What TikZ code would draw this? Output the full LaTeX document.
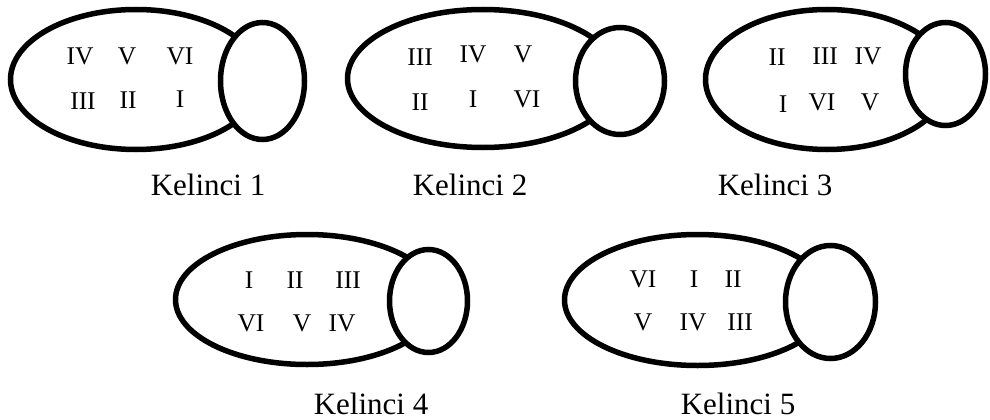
\documentclass[tikz,border=0pt]{standalone}
\usepackage{fontspec}
\setmainfont{Liberation Serif}
\begin{document}
\begin{tikzpicture}[x=1pt,y=-1pt,
  outline/.style={draw=black,line width=5.5pt},
  head/.style={draw=black,fill=white,line width=5.5pt},
  num/.style={anchor=base,inner sep=0pt,font=\fontsize{25.5}{25.5}\selectfont},
  caption/.style={anchor=base,inner sep=0pt,font=\fontsize{31}{31}\selectfont}]
\useasboundingbox (0,0) rectangle (990,420);

% Kelinci 1
\draw[outline] (136,79.5) ellipse [x radius=125.5,y radius=70];
\draw[head] (262.5,81) ellipse [x radius=42,y radius=58.5];
\node[num] (k1a) at (80,65) {IV};
\node[num] (k1b) at (127,65) {V};
\node[num] (k1c) at (180,65) {VI};
\node[num] (k1d) at (83,109) {III};
\node[num] (k1e) at (128,108) {II};
\node[num] (k1f) at (180,107) {I};
\node[caption] (cap1) at (208,195) {Kelinci 1};

% Kelinci 2
\draw[outline] (483,78.5) ellipse [x radius=135.5,y radius=69];
\draw[head] (620,81) ellipse [x radius=44.5,y radius=53.5];
\node[num] (k2a) at (420,66) {III};
\node[num] (k2b) at (473,63) {IV};
\node[num] (k2c) at (523,63) {V};
\node[num] (k2d) at (420,110) {II};
\node[num] (k2e) at (473,107) {I};
\node[num] (k2f) at (527,107) {VI};
\node[caption] (cap2) at (470,195) {Kelinci 2};

% Kelinci 3
\draw[outline] (827,79.5) ellipse [x radius=121.5,y radius=70];
\draw[head] (945.5,74) ellipse [x radius=40,y radius=51.5];
\node[num] (k3a) at (777,66) {II};
\node[num] (k3b) at (825,65) {III};
\node[num] (k3c) at (868,65) {IV};
\node[num] (k3d) at (783,112) {I};
\node[num] (k3e) at (822,110) {VI};
\node[num] (k3f) at (870,110) {V};
\node[caption] (cap3) at (775,195) {Kelinci 3};

% Kelinci 4
\draw[outline] (307,299.5) ellipse [x radius=131.5,y radius=65];
\draw[head] (428.5,301) ellipse [x radius=39,y radius=51.5];
\node[num] (k4a) at (249,288) {I};
\node[num] (k4b) at (295,288) {II};
\node[num] (k4c) at (348,288) {III};
\node[num] (k4d) at (251,331) {VI};
\node[num] (k4e) at (302,331) {V};
\node[num] (k4f) at (342,331) {IV};
\node[caption] (cap4) at (371,414) {Kelinci 4};

% Kelinci 5
\draw[outline] (697.5,300) ellipse [x radius=133,y radius=65.5];
\draw[head] (830.5,302) ellipse [x radius=45,y radius=56.5];
\node[num] (k5a) at (643,287) {VI};
\node[num] (k5b) at (694,287) {I};
\node[num] (k5c) at (733,287) {II};
\node[num] (k5d) at (643,330) {V};
\node[num] (k5e) at (693,330) {IV};
\node[num] (k5f) at (740,330) {III};
\node[caption] (cap5) at (738,414) {Kelinci 5};
\end{tikzpicture}
\end{document}
